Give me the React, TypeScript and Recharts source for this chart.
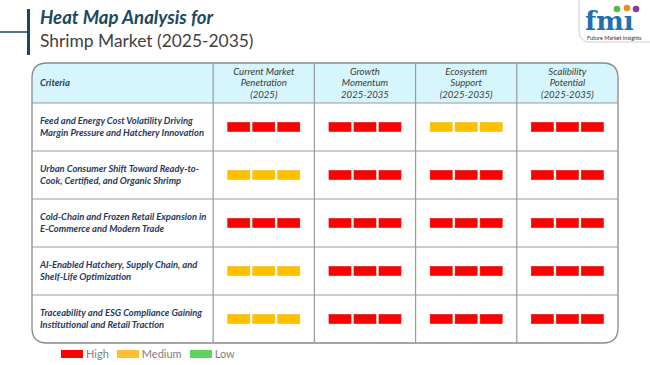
import React from "react";
import { ScatterChart, Scatter, XAxis, YAxis, ReferenceArea, ReferenceLine, Legend } from "recharts";

// ---------- data ----------
const titleLine1 = "Heat Map Analysis for";
const titleLine2 = "Shrimp Market (2025-2035)";
const firstHeader = "Criteria";
const criteria: string[][] = [
  ["Feed and Energy Cost Volatility Driving", "Margin Pressure and Hatchery Innovation"],
  ["Urban Consumer Shift Toward Ready-to-", "Cook, Certified, and Organic Shrimp"],
  ["Cold-Chain and Frozen Retail Expansion in", "E-Commerce and Modern Trade"],
  ["AI-Enabled Hatchery, Supply Chain, and", "Shelf-Life Optimization"],
  ["Traceability and ESG Compliance Gaining", "Institutional and Retail Traction"],
];
const columnHeaders: string[][] = [
  ["Current Market", "Penetration", "(2025)"],
  ["Growth", "Momentum", "2025-2035"],
  ["Ecosystem", "Support", "(2025-2035)"],
  ["Scalibility", "Potential", "(2025-2035)"],
];
const currentMarketPenetration = ["High", "Medium", "High", "Medium", "Medium"];
const growthMomentum = ["High", "High", "High", "High", "High"];
const ecosystemSupport = ["Medium", "High", "High", "High", "High"];
const scalabilityPotential = ["High", "High", "High", "High", "High"];
const levels = ["High", "Medium", "Low"];
const levelColors: Record<string, string> = { High: "#ff0000", Medium: "#ffc000", Low: "#5fd35f" };
const legendColors: Record<string, string> = { High: "#ff0000", Medium: "#ffbf2f", Low: "#5fd35f" };

// ---------- layout ----------
const W = 650;
const H = 365;
const X_MIN = -1.79;
const X_MAX = 4;
const Y_MIN = -0.833;
const Y_MAX = 5;
const FONT = "Lato, 'Open Sans', sans-serif";
const NAVY = "#1f3a5e";
const TEAL = "#1b4a5c";

const columns = [currentMarketPenetration, growthMomentum, ecosystemSupport, scalabilityPotential];
const cells = columns.flatMap((col, c) => col.map((lvl, r) => ({ x: c + 0.5, y: r + 0.5, level: lvl })));
const headerPoints = columnHeaders.map((lines, c) => ({ x: c + 0.5, y: Y_MIN / 2, lines }));
const criteriaPoints = [
  { x: X_MIN, y: Y_MIN / 2, lines: [firstHeader] },
  ...criteria.map((lines, r) => ({ x: X_MIN, y: r + 0.5, lines })),
];

const CellBars = (props: any) => {
  const { cx, cy, payload } = props;
  const color = levelColors[payload.level];
  const w = 22, h = 9, gap = 3;
  const total = w * 3 + gap * 2;
  return (
    <g>
      {[0, 1, 2].map((i) => (
        <rect key={i} x={cx - total / 2 + i * (w + gap)} y={cy - h / 2} width={w} height={h}
          fill={color} stroke={color === "#ff0000" ? "#e80000" : "#f5b800"} strokeWidth={0.6} />
      ))}
    </g>
  );
};

const HeaderText = (props: any) => {
  const { cx, cy, payload } = props;
  const n = payload.lines.length;
  return (
    <text textAnchor="middle" fontFamily={FONT} fontStyle="italic" fontSize={9.6} fill="#3a3a3a">
      {payload.lines.map((l: string, i: number) => (
        <tspan key={i} x={cx} y={cy + (i - (n - 1) / 2) * 11.7} dominantBaseline="central">{l}</tspan>
      ))}
    </text>
  );
};

const CriteriaText = (props: any) => {
  const { cx, cy, payload } = props;
  const n = payload.lines.length;
  return (
    <text textAnchor="start" fontFamily={FONT} fontStyle="italic" fontWeight={700} fontSize={9.4} fill={NAVY}>
      {payload.lines.map((l: string, i: number) => (
        <tspan key={i} x={cx + 8} y={cy + (i - (n - 1) / 2) * 12} dominantBaseline="central">{l}</tspan>
      ))}
    </text>
  );
};

const roundedTop = (x: number, y: number, w: number, h: number, r: number) =>
  `M${x},${y + h} L${x},${y + r} Q${x},${y} ${x + r},${y} L${x + w - r},${y} Q${x + w},${y} ${x + w},${y + r} L${x + w},${y + h} Z`;

const roundedAll = (x: number, y: number, w: number, h: number, r: number) =>
  `M${x},${y + r} Q${x},${y} ${x + r},${y} L${x + w - r},${y} Q${x + w},${y} ${x + w},${y + r} L${x + w},${y + h - r} Q${x + w},${y + h} ${x + w - r},${y + h} L${x + r},${y + h} Q${x},${y + h} ${x},${y + h - r} Z`;

const LegendContent = (props: any) => {
  const present = (props.payload || []).map((p: any) => p.value);
  const list = levels.filter((l) => present.length === 0 || present.includes(l));
  return (
    <div style={{ display: "flex", alignItems: "center", fontFamily: FONT, fontSize: 11, color: "#808080", whiteSpace: "nowrap" }}>
      {list.map((l: string) => (
        <div key={l} style={{ display: "flex", alignItems: "center", marginRight: 8 }}>
          <span style={{ display: "inline-block", width: 22, height: 8, background: legendColors[l], marginRight: 3 }} />
          <span style={{ lineHeight: "12px" }}>{l}</span>
        </div>
      ))}
    </div>
  );
};

export default function App() {
  return (
    <div style={{ position: "absolute", left: 0, top: 0, width: W, height: H, background: "#fff" }}>
      <ScatterChart width={W} height={H} margin={{ top: 63, right: 32, bottom: 22, left: 32 }}>
        <XAxis type="number" dataKey="x" domain={[X_MIN, X_MAX]} hide />
        <YAxis type="number" dataKey="y" domain={[Y_MIN, Y_MAX]} reversed hide />
        <ReferenceArea x1={X_MIN} x2={X_MAX} y1={Y_MIN} y2={0} ifOverflow="visible"
          shape={(p: any) => <path d={roundedTop(p.x, p.y, p.width, p.height, 15)} fill="#d6f5fc" />} />
        {[0, 1, 2, 3].map((v) => (
          <ReferenceLine key={"v" + v} x={v} stroke="#9a9a9a" strokeWidth={1.2} ifOverflow="visible" />
        ))}
        {[0, 1, 2, 3, 4].map((v) => (
          <ReferenceLine key={"h" + v} y={v} stroke="#9a9a9a" strokeWidth={1.2} ifOverflow="visible" />
        ))}
        <ReferenceArea x1={X_MIN} x2={X_MAX} y1={Y_MIN} y2={Y_MAX} ifOverflow="visible"
          shape={(p: any) => <path d={roundedAll(p.x, p.y, p.width, p.height, 15)} fill="none" stroke="#8a8a8a" strokeWidth={1.3} />} />
        {levels.map((lvl) => (
          <Scatter key={lvl} name={lvl} data={cells.filter((c) => c.level === lvl)} fill={levelColors[lvl]}
            shape={CellBars} legendType="rect" isAnimationActive={false} />
        ))}
        <Scatter name="headers" data={headerPoints} shape={HeaderText} legendType="none" isAnimationActive={false} />
        <Scatter name="criteria" data={criteriaPoints} shape={CriteriaText} legendType="none" isAnimationActive={false} />
        <Legend layout="horizontal" verticalAlign="middle" align="center" content={LegendContent}
          wrapperStyle={{ top: 348, left: 61, width: "auto", bottom: "auto" }} />
      </ScatterChart>
      <svg width={W} height={H} style={{ position: "absolute", left: 0, top: 0, pointerEvents: "none" }}>
        <line x1={0} y1={32} x2={28} y2={32} stroke={TEAL} strokeWidth={1.5} />
        <rect x={27} y={9} width={3} height={46} fill={TEAL} />
        <text x={40} y={24} fontFamily={FONT} fontWeight={700} fontStyle="italic" fontSize={18.6} fill={TEAL}>{titleLine1}</text>
        <text x={40} y={47} fontFamily={FONT} fontSize={17.4} fill="#3f3f3f">{titleLine2}</text>
        <rect x={579} y={-12} width={82} height={54} rx={10} fill="#fff" stroke="#cfcfcf" strokeWidth={1} />
        <text x={585} y={30} fontFamily="'DejaVu Serif', serif" fontWeight={700} fontSize={26} fill="#1e6fb5">fmı</text>
        <circle cx={617} cy={9} r={3.3} fill="#55b848" />
        <circle cx={627} cy={8} r={3.3} fill="#f08a24" />
        <circle cx={636} cy={9} r={3.3} fill="#8a3c96" />
        <text x={587} y={39.5} fontFamily={FONT} fontSize={5.5} fill="#333">Future Market Insights</text>
      </svg>
    </div>
  );
}
